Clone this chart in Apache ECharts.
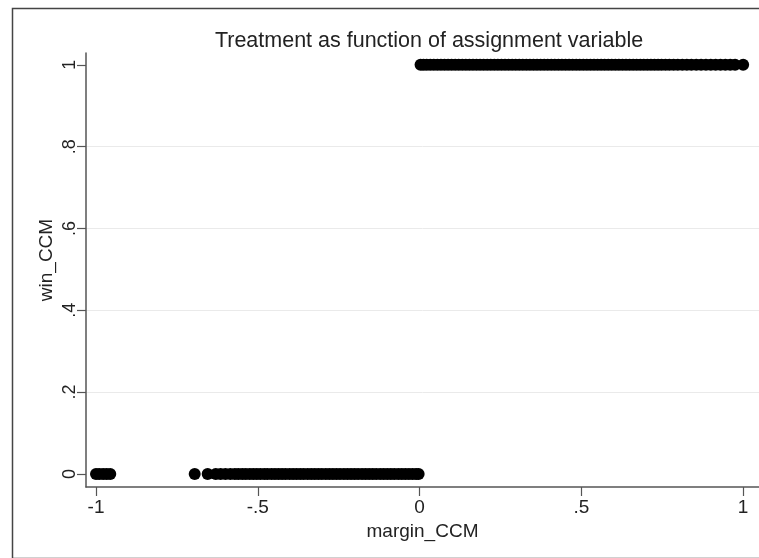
<!DOCTYPE html>
<html>
<head>
<meta charset="utf-8">
<script src="https://cdn.jsdelivr.net/npm/echarts@6/dist/echarts.min.js"></script>
<style>
  html, body { margin: 0; padding: 0; background: #fff; }
  #chart { width: 759px; height: 558px; }
</style>
</head>
<body>
<div id="chart"></div>
<script>
// margin_CCM of losers (win_CCM = 0)
const loseMargin = [-1, -0.99, -0.978, -0.967, -0.956, -0.695, -0.655, -0.63, -0.615, -0.6, -0.585,
  -0.571, -0.56, -0.548, -0.537, -0.525, -0.514, -0.503, -0.492, -0.48, -0.47, -0.458, -0.447,
  -0.436, -0.425, -0.414, -0.402, -0.391, -0.38, -0.369, -0.358, -0.346, -0.335, -0.324, -0.313,
  -0.302, -0.29, -0.279, -0.268, -0.257, -0.246, -0.234, -0.223, -0.212, -0.201, -0.19, -0.178,
  -0.167, -0.156, -0.145, -0.134, -0.122, -0.111, -0.1, -0.089, -0.078, -0.066, -0.055, -0.044,
  -0.033, -0.022, -0.011, -0.003]
// margin_CCM of winners (win_CCM = 1)
const winMargin = [0.003, 0.012, 0.022, 0.033, 0.044, 0.055, 0.066, 0.077, 0.088, 0.099, 0.11,
  0.121, 0.132, 0.143, 0.154, 0.165, 0.176, 0.187, 0.198, 0.209, 0.22, 0.231, 0.242, 0.253, 0.264,
  0.275, 0.286, 0.297, 0.308, 0.319, 0.33, 0.341, 0.352, 0.363, 0.374, 0.385, 0.396, 0.407, 0.418,
  0.429, 0.44, 0.451, 0.462, 0.473, 0.484, 0.495, 0.506, 0.517, 0.528, 0.539, 0.55, 0.561, 0.572,
  0.583, 0.594, 0.605, 0.616, 0.627, 0.638, 0.649, 0.66, 0.671, 0.682, 0.693, 0.704, 0.715, 0.726,
  0.737, 0.748, 0.76, 0.772, 0.785, 0.798, 0.812, 0.826, 0.84, 0.855, 0.87, 0.885, 0.9, 0.915,
  0.93, 0.945, 0.96, 0.975, 1.0]
const xTicks = [-1, -0.5, 0, 0.5, 1]
const yTicks = [0, 0.2, 0.4, 0.6, 0.8, 1]

const fontFamily = '"Liberation Sans", Arial, Helvetica, sans-serif'
// stata style: drop leading zero (.5, -.5)
const stataFmt = v => {
  const s = String(Math.round(v * 100) / 100)
  return s.replace(/^0\./, '.').replace(/^-0\./, '-.')
}

const chart = echarts.init(document.getElementById('chart'), null, { renderer: 'canvas' })

const option = {
  backgroundColor: '#fff',
  animation: false,
  title: {
    text: 'Treatment as function of assignment variable',
    left: 424,
    textAlign: 'center',
    top: 25,
    textStyle: { fontFamily: fontFamily, fontSize: 21.5, fontWeight: 'normal', color: '#222' }
  },
  graphic: [{
    type: 'rect',
    left: 10,
    top: 6,
    shape: { width: 800, height: 550 },
    style: { fill: 'none', stroke: '#444', lineWidth: 1.5 },
    silent: true
  }],
  grid: { left: 86, right: 0, top: 53, bottom: 71, containLabel: false },
  xAxis: {
    type: 'value',
    min: -1.031,
    max: 1.049,
    name: 'margin_CCM',
    nameLocation: 'middle',
    nameGap: 34,
    nameTextStyle: { fontFamily: fontFamily, fontSize: 19, color: '#222' },
    axisLine: { show: true, onZero: false, lineStyle: { color: '#555', width: 1.5 } },
    axisTick: { show: true, customValues: xTicks, length: 9, lineStyle: { color: '#555', width: 1.2 } },
    axisLabel: {
      customValues: xTicks, margin: 11, formatter: stataFmt,
      fontFamily: fontFamily, fontSize: 19, color: '#222'
    },
    splitLine: { show: false }
  },
  yAxis: {
    type: 'value',
    min: -0.032,
    max: 1.029,
    name: 'win_CCM',
    nameLocation: 'middle',
    nameGap: 30,
    nameMoveOverlap: false,
    nameTextStyle: { fontFamily: fontFamily, fontSize: 19, color: '#222', padding: [0, 0, 0, 20] },
    axisLine: { show: true, onZero: false, lineStyle: { color: '#555', width: 1.5 } },
    axisTick: { show: true, customValues: yTicks, length: 9, lineStyle: { color: '#555', width: 1.2 } },
    axisLabel: {
      customValues: yTicks, rotate: 90, margin: 7, formatter: stataFmt,
      fontFamily: fontFamily, fontSize: 18, color: '#222'
    },
    splitLine: { show: true, showMinLine: false, showMaxLine: false, lineStyle: { color: '#eaeaea', width: 1 } }
  },
  series: [
    {
      type: 'scatter',
      symbol: 'circle',
      symbolSize: 12,
      itemStyle: { color: '#000', opacity: 1 },
      data: loseMargin.map(x => [x, 0])
    },
    {
      type: 'scatter',
      symbol: 'circle',
      symbolSize: 12,
      itemStyle: { color: '#000', opacity: 1 },
      data: winMargin.map(x => [x, 1])
    }
  ]
}

chart.setOption(option)
</script>
</body>
</html>
